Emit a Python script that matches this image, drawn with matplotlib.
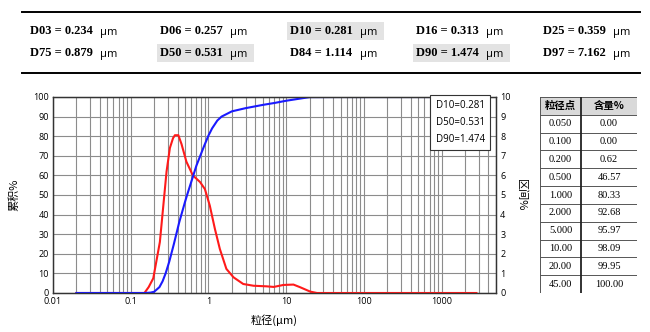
import matplotlib
matplotlib.use("Agg")
import matplotlib.pyplot as plt
from matplotlib.patches import Rectangle
from matplotlib.ticker import FixedLocator, FixedFormatter, LogLocator, NullFormatter

plt.rcParams['font.family'] = ['Open Sans', 'Noto Sans CJK SC', 'DejaVu Sans']

# header values
d_names = ['D03', 'D06', 'D10', 'D16', 'D25', 'D75', 'D50', 'D84', 'D90', 'D97']
d_values = ['0.234', '0.257', '0.281', '0.313', '0.359', '0.879', '0.531', '1.114', '1.474', '7.162']
d_marked = ['D10', 'D50', 'D90']

# cumulative curve (%)
cum_size = [0.02, 0.15, 0.18, 0.2, 0.234, 0.257, 0.281, 0.313, 0.359, 0.42, 0.5, 0.531,
            0.7, 0.879, 1.0, 1.114, 1.3, 1.474, 2.0, 3.0, 5.0, 7.162, 10.0, 20.0, 45.0, 2800.0]
cum_pct = [0, 0, 0.2, 0.62, 3, 6, 10, 16, 25, 36, 46.57, 50,
           65, 75, 80.33, 84, 88, 90, 92.68, 94.3, 95.97, 97, 98.09, 99.95, 100, 100]

# interval curve (%)
int_size = [0.02, 0.15, 0.17, 0.195, 0.237, 0.289, 0.319, 0.35, 0.37, 0.41, 0.45, 0.52,
            0.63, 0.78, 0.9, 1.04, 1.21, 1.4, 1.7, 2.1, 2.8, 3.8, 5.6, 6.9, 9.2,
            12.4, 15.2, 20.4, 24.9, 2800.0]
int_pct = [0, 0, 0.3, 0.75, 2.6, 6.2, 7.4, 7.9, 8.05, 8.05, 7.6, 6.7,
           6.0, 5.66, 5.3, 4.46, 3.27, 2.25, 1.23, 0.8, 0.46, 0.37, 0.34, 0.31, 0.41,
           0.43, 0.29, 0.07, 0, 0]

# table on the right
tbl_size = ['0.050', '0.100', '0.200', '0.500', '1.000', '2.000', '5.000', '10.00', '20.00', '45.00']
tbl_pct = ['0.00', '0.00', '0.62', '46.57', '80.33', '92.68', '95.97', '98.09', '99.95', '100.00']

W, H = 650, 332
fig = plt.figure(figsize=(6.5, 3.32), dpi=100)

# ---- header block
fig.add_artist(plt.Line2D([22 / W, 640 / W], [1 - 12 / H, 1 - 12 / H], color='black', lw=1.4))
fig.add_artist(plt.Line2D([22 / W, 640 / W], [1 - 73 / H, 1 - 73 / H], color='black', lw=1.4))
col_x = [30, 160, 290, 416, 543]
row_y = [31, 53]
for i, (name, val) in enumerate(zip(d_names, d_values)):
    x = col_x[i % 5]
    y = row_y[i // 5]
    if name in d_marked:
        fig.add_artist(Rectangle(((x - 3) / W, 1 - (y + 9) / H), 97 / W, 18 / H,
                                 transform=fig.transFigure, facecolor='#e3e3e3', edgecolor='none'))
    fig.text(x / W, 1 - (y + 3.5) / H, f'{name} = {val}', family='Liberation Serif', weight='bold',
             fontsize=9, va='baseline', ha='left')
    fig.text((x + 70) / W, 1 - (y + 3.5) / H, 'μm', family='Open Sans', fontsize=8,
             va='baseline', ha='left')

# ---- main chart
ax = fig.add_axes([53 / W, 1 - 293 / H, (496 - 53) / W, (293 - 97) / H])
ax2 = ax.twinx()
ax.set_xscale('log')
ax.set_xlim(0.01, 5000)
ax.set_ylim(0, 100)
ax2.set_ylim(0, 10)

ax.xaxis.set_major_locator(FixedLocator([0.01, 0.1, 1, 10, 100, 1000]))
ax.xaxis.set_major_formatter(FixedFormatter(['0.01', '0.1', '1', '10', '100', '1000']))
ax.xaxis.set_minor_locator(LogLocator(base=10, subs=range(2, 10)))
ax.xaxis.set_minor_formatter(NullFormatter())
ax.set_yticks(range(0, 101, 10))
ax2.set_yticks(range(0, 11))
ax.grid(True, which='both', axis='x', color='#8c8c8c', lw=0.8)
ax.grid(True, which='major', axis='y', color='#8c8c8c', lw=0.8)
ax.set_axisbelow(True)

for a in (ax, ax2):
    a.tick_params(axis='both', which='both', length=0, labelsize=6.5, pad=3)
    for s in a.spines.values():
        s.set_color('#333333')
        s.set_linewidth(0.9)

ax2.plot(int_size, int_pct, color='#ff1a1a', lw=1.5)
ax2.plot(cum_size, [v / 10 for v in cum_pct], color='#1a1aff', lw=1.5)

ax.set_xlabel('粒径(μm)', fontsize=8, family=['Noto Sans CJK SC'])
ax.xaxis.set_label_coords(0.5, -0.11)
ax.set_ylabel('累积%', fontsize=8, family=['Noto Sans CJK SC'])
ax.yaxis.set_label_coords(-0.075, 0.5)
ax2.set_ylabel('区间%', fontsize=8, family=['Noto Sans CJK SC'], rotation=270, va='bottom')
ax2.yaxis.set_label_coords(1.045, 0.5)

ax2.text(0.975, 0.985, 'D10=0.281\nD50=0.531\nD90=1.474', transform=ax2.transAxes,
         ha='right', va='top', fontsize=7, linespacing=1.75, zorder=5,
         bbox=dict(boxstyle='square,pad=0.55', facecolor='white', edgecolor='#333333', lw=0.8))

# ---- table
tx0, tx1, tmid = 540, 637, 581
ty0, ty1 = 97, 293
rh = (ty1 - ty0) / 11
tax = fig.add_axes([tx0 / W, 1 - ty1 / H, (tx1 - tx0) / W, (ty1 - ty0) / H])
tax.set_xlim(tx0, tx1)
tax.set_ylim(ty1, ty0)
tax.axis('off')
tax.add_patch(Rectangle((tx0, ty0), tx1 - tx0, rh, facecolor='#d9d9d9', edgecolor='none'))
for k in range(12):
    tax.plot([tx0, tx1], [ty0 + k * rh] * 2, color='#555555', lw=0.7)
tax.plot([tx0, tx0], [ty0, ty1], color='#555555', lw=0.7)
tax.plot([tx1, tx1], [ty0, ty1], color='#555555', lw=0.7)
tax.plot([tmid, tmid], [ty0, ty1], color='#222222', lw=1.3)
tax.text((tx0 + tmid) / 2, ty0 + rh / 2, '粒径点', ha='center', va='center', fontsize=7.5,
         weight='bold', family=['Noto Sans CJK SC'])
tax.text((tmid + tx1) / 2, ty0 + rh / 2, '含量%', ha='center', va='center', fontsize=7.5,
         weight='bold', family=['Noto Sans CJK SC'])
for r, (s, p) in enumerate(zip(tbl_size, tbl_pct)):
    yc = ty0 + (r + 1.5) * rh
    tax.text((tx0 + tmid) / 2, yc, s, ha='center', va='center', fontsize=7.5, family='Liberation Serif')
    tax.text((tmid + tx1) / 2, yc, p, ha='center', va='center', fontsize=7.5, family='Liberation Serif')

fig.savefig('out.png', dpi=100)
